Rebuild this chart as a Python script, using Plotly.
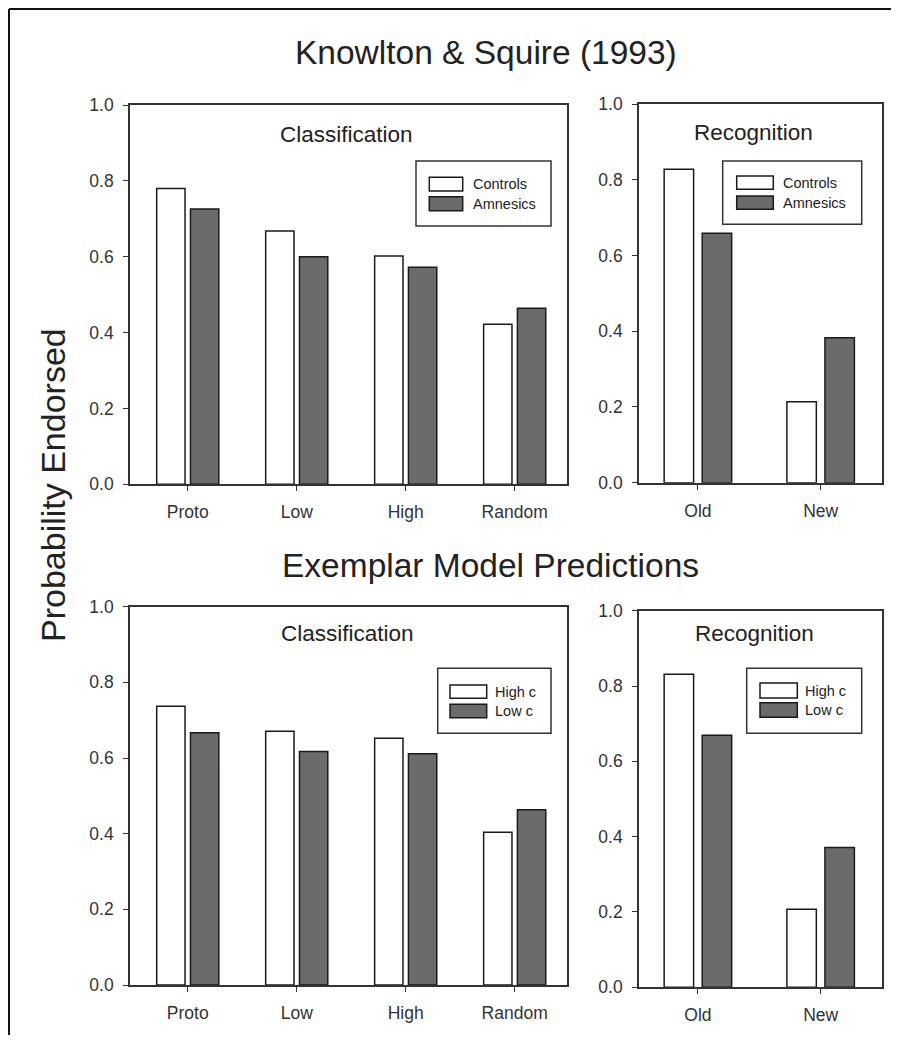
import plotly.graph_objects as go

# ---------------- data ----------------
class_categories = ["Proto", "Low", "High", "Random"]
recog_categories = ["Old", "New"]

top_series = ["Controls", "Amnesics"]
bottom_series = ["High c", "Low c"]

ks_controls_class = [0.780, 0.668, 0.602, 0.422]
ks_amnesics_class = [0.726, 0.600, 0.572, 0.464]
ks_controls_recog = [0.828, 0.214]
ks_amnesics_recog = [0.659, 0.383]

ex_highc_class = [0.737, 0.671, 0.652, 0.404]
ex_lowc_class = [0.667, 0.617, 0.611, 0.463]
ex_highc_recog = [0.831, 0.207]
ex_lowc_recog = [0.669, 0.371]

y_ticks = [0.0, 0.2, 0.4, 0.6, 0.8, 1.0]

main_titles = ["Knowlton & Squire (1993)", "Exemplar Model Predictions"]
panel_titles = ["Classification", "Recognition"]
y_title = "Probability Endorsed"

# ---------------- style ----------------
# the page body adds an 8px offset; size the figure so it fits the window
OFF = 8
W, H = 899 - 2 * OFF, 1043 - 2 * OFF
FONT = "Liberation Sans, Arial, Helvetica, sans-serif"
INK = "#222222"
AXIS = "#333333"
FILLS = ["#ffffff", "#6b6b6b"]
OUTLINE = "#1a1a1a"


def px(x):
    return (x - OFF) / W


def py(y):
    return 1 - (y - OFF) / H


fig = go.Figure()

panels = [
    ("", class_categories, top_series, [ks_controls_class, ks_amnesics_class],
     (130, 567), (105, 484.3), 0.26, (-0.285, 0.025), [-0.53, 3.48]),
    ("2", recog_categories, top_series, [ks_controls_recog, ks_amnesics_recog],
     (639, 882), (104, 482.7), 0.24, (-0.275, 0.035), [-0.48, 1.5]),
    ("3", class_categories, bottom_series, [ex_highc_class, ex_lowc_class],
     (130, 567), (606.7, 985), 0.26, (-0.285, 0.025), [-0.53, 3.48]),
    ("4", recog_categories, bottom_series, [ex_highc_recog, ex_lowc_recog],
     (639, 882), (610.7, 987.3), 0.24, (-0.275, 0.035), [-0.48, 1.5]),
]

layout_axes = {}
for suf, cats, names, vals, (x0, x1), (y0, y1), bw, offs, xr in panels:
    for name, v, off, fill in zip(names, vals, offs, FILLS):
        fig.add_trace(go.Bar(
            x=cats, y=v, name=name, width=bw, offset=off,
            marker=dict(color=fill, line=dict(color=OUTLINE, width=1.5)),
            xaxis="x" + suf, yaxis="y" + suf, showlegend=False,
        ))
    common = dict(showline=True, linecolor=AXIS, linewidth=1.6, mirror=True,
                  ticks="outside", ticklen=5, tickwidth=1.2, tickcolor=AXIS,
                  showgrid=False, zeroline=False, automargin=False,
                  tickfont=dict(family=FONT, size=17.5, color=AXIS))
    layout_axes["xaxis" + suf] = dict(
        domain=[px(x0), px(x1)], anchor="y" + suf, type="category",
        range=xr, ticklabelstandoff=6, **common)
    layout_axes["yaxis" + suf] = dict(
        domain=[py(y1), py(y0)], anchor="x" + suf, range=[0, 1],
        tickvals=y_ticks, tickformat=".1f", ticklabelstandoff=6, **common)

fig.update_layout(**layout_axes)

annotations = [
    dict(text=main_titles[0], x=px(486), y=py(52), font=dict(size=33.5)),
    dict(text=main_titles[1], x=px(490.7), y=py(565), font=dict(size=33.5)),
    dict(text=y_title, x=px(53), y=py(485), textangle=-90, font=dict(size=34)),
    dict(text=panel_titles[0], x=px(346), y=py(134.5), font=dict(size=22.5)),
    dict(text=panel_titles[1], x=px(753), y=py(133), font=dict(size=22.5)),
    dict(text=panel_titles[0], x=px(347), y=py(633), font=dict(size=22.5)),
    dict(text=panel_titles[1], x=px(754), y=py(633), font=dict(size=22.5)),
]

shapes = []
legends = [
    (top_series, (416, 161, 551, 226), (429.3, 462.7), ((177.3, 191), (196.7, 210.7)), 470.7),
    (top_series, (722.7, 161, 861.7, 224.3), (736.7, 773.3), ((176, 189.3), (196, 209.3)), 780.7),
    (bottom_series, (437.7, 668.3, 551, 733.3), (450, 486.7), ((685, 698.3), (704.3, 717.7)), 492.7),
    (bottom_series, (746.7, 668.3, 861.7, 733.3), (760, 797.3), ((683, 698), (702.7, 717.3)), 802.7),
]
for names, (bx0, by0, bx1, by1), (sx0, sx1), srows, tx in legends:
    shapes.append(dict(type="rect", xref="paper", yref="paper",
                       x0=px(bx0), x1=px(bx1), y0=py(by1), y1=py(by0),
                       line=dict(color=AXIS, width=1.5), fillcolor="rgba(0,0,0,0)"))
    for name, (r0, r1), fill in zip(names, srows, FILLS):
        shapes.append(dict(type="rect", xref="paper", yref="paper",
                           x0=px(sx0), x1=px(sx1), y0=py(r1), y1=py(r0),
                           line=dict(color=OUTLINE, width=1.5), fillcolor=fill))
        annotations.append(dict(text=name, x=px(tx), y=py((r0 + r1) / 2),
                                xanchor="left", font=dict(size=14.5)))

# scan frame (top and left border)
shapes.append(dict(type="line", xref="paper", yref="paper",
                   x0=px(9), x1=1, y0=py(9), y1=py(9),
                   line=dict(color="#111111", width=2)))
shapes.append(dict(type="line", xref="paper", yref="paper",
                   x0=px(9), x1=px(9), y0=0, y1=py(9),
                   line=dict(color="#111111", width=2)))

for a in annotations:
    a.setdefault("xanchor", "center")
    a.setdefault("yanchor", "middle")
    a["xref"] = "paper"
    a["yref"] = "paper"
    a["showarrow"] = False
    a["font"] = dict(family=FONT, color=INK, size=a["font"]["size"])

fig.update_layout(
    width=W, height=H, autosize=False,
    margin=dict(l=0, r=0, t=0, b=0, pad=0),
    paper_bgcolor="white", plot_bgcolor="white",
    barmode="overlay",
    annotations=annotations, shapes=shapes,
    font=dict(family=FONT, color=INK),
)

fig.write_html("out.html")
